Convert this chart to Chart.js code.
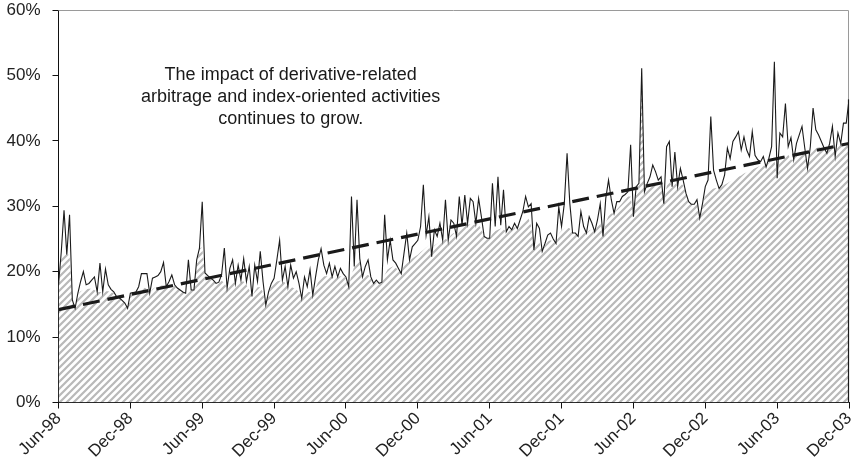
<!DOCTYPE html>
<html>
<head>
<meta charset="utf-8">
<script src="https://cdn.jsdelivr.net/npm/chart.js@4/dist/chart.umd.min.js"></script>
<style>
  html, body { margin: 0; padding: 0; background: #fff; }
  #wrap { width: 854px; height: 468px; }
</style>
</head>
<body>
<div id="wrap"><canvas id="c" width="854" height="468"></canvas></div>
<script>
// ---- data (weekly observations, Jun-98 .. Dec-03) ----
const tickLabels = ['Jun-98','Dec-98','Jun-99','Dec-99','Jun-00','Dec-00','Jun-01','Dec-01','Jun-02','Dec-02','Jun-03','Dec-03'];
const weeksPerTick = 26;

// weekly share (%), black line
const lineValues = [
  18.0,23.0,29.4,22.6,28.7,15.7,14.4,16.7,18.5,20.0,18.0,18.2,18.7,19.2,16.9,21.3,16.9,20.4,18.0,17.3,16.9,16.2,16.0,15.6,15.2,14.4,
  16.7,16.8,16.9,17.7,19.7,19.7,19.7,16.7,19.0,19.2,19.4,20.0,21.4,17.7,18.5,19.5,18.0,17.5,17.2,16.9,16.7,21.8,17.2,17.2,21.8,23.6,
  30.7,19.8,19.4,19.0,18.7,18.2,18.4,19.5,23.6,17.5,20.5,21.8,18.2,21.0,18.7,22.0,18.5,20.8,16.2,21.0,18.5,23.1,18.5,14.9,16.9,18.2,
  19.0,21.8,24.8,18.7,20.8,17.7,21.0,19.0,20.0,18.2,15.9,19.2,17.7,20.3,16.4,19.2,21.8,23.5,21.0,19.7,21.3,19.2,20.8,19.2,20.5,19.7,
  19.2,17.7,31.5,20.8,31.0,22.0,19.2,20.8,21.8,19.2,18.2,18.7,18.2,18.4,28.7,21.8,24.8,21.8,21.3,20.5,19.7,22.8,25.9,21.8,23.8,24.3,
  24.8,26.9,33.3,25.6,28.4,22.3,26.4,25.4,27.4,24.8,31.0,24.8,27.9,27.4,25.4,31.5,27.1,31.7,27.4,31.2,30.7,27.4,31.2,28.4,25.4,25.1,
  25.1,33.5,26.9,34.5,27.1,32.5,26.1,26.9,26.4,27.4,26.6,27.9,29.2,31.5,29.9,30.4,23.3,27.4,26.6,23.1,24.3,25.6,25.9,25.0,24.3,29.9,
  26.9,30.4,38.1,30.4,25.9,25.9,25.4,29.2,26.9,25.9,28.4,27.4,26.1,27.9,30.4,25.4,31.2,34.0,31.0,28.9,30.7,30.7,31.5,31.8,32.2,39.4,
  28.4,33.0,33.5,51.1,32.2,33.5,34.5,36.3,35.3,34.0,34.5,30.4,39.1,39.9,33.0,38.3,33.0,35.8,34.0,32.0,30.7,30.3,30.3,31.0,28.2,30.4,
  33.0,34.0,43.7,35.5,34.0,32.7,33.3,34.8,38.9,37.3,39.9,40.6,41.4,38.6,40.6,38.6,37.6,41.4,37.8,37.1,36.8,37.6,36.0,37.3,39.1,52.1,
  34.3,41.2,40.6,45.7,39.1,40.5,37.1,39.6,40.9,42.2,38.9,35.8,39.1,45.0,41.7,40.9,39.9,38.9,38.1,39.6,42.2,37.6,41.2,39.6,42.7,42.7,46.3
];

// weekly component (%), hatched area
const hatchValues = [
  18.0,22.0,22.6,22.6,22.6,15.7,14.4,16.5,17.0,17.2,17.3,17.4,17.4,17.2,16.9,16.9,16.9,17.0,17.0,16.9,16.7,16.2,16.0,15.6,15.2,14.4,
  16.7,16.8,16.9,17.2,17.5,17.6,17.3,16.7,17.3,17.6,17.8,17.9,17.9,17.7,17.8,17.9,17.8,17.5,17.2,16.9,16.7,17.0,17.2,17.2,21.0,23.6,
  23.7,19.8,19.0,18.8,18.6,18.2,18.4,18.6,18.3,17.5,18.2,18.6,18.2,18.4,18.5,18.5,18.0,17.2,16.2,17.0,17.6,17.6,16.8,14.9,16.5,17.8,
  18.2,18.5,18.6,18.6,18.3,17.7,17.7,17.5,17.3,16.8,15.9,16.5,16.9,16.9,16.4,17.5,18.5,19.2,19.3,19.3,19.3,19.2,19.2,19.2,19.3,19.3,
  19.0,17.7,19.5,20.8,21.5,21.5,19.2,19.5,19.5,19.2,18.2,18.4,18.2,18.4,19.5,20.3,20.6,20.8,20.6,20.2,19.7,21.0,21.3,21.6,22.0,22.3,
  22.6,23.0,23.3,23.7,24.0,22.3,24.0,24.3,24.6,24.8,25.0,24.8,25.6,25.9,25.4,26.5,26.8,27.0,27.2,27.2,27.2,27.2,27.2,26.5,25.4,25.1,
  25.1,25.8,26.2,26.4,26.6,26.5,26.1,26.4,26.4,26.8,26.6,27.2,27.7,28.0,28.2,27.0,23.3,24.5,24.5,23.1,24.0,24.6,24.8,24.6,24.3,25.8,
  26.3,26.6,26.8,26.6,25.9,25.9,25.4,25.8,26.0,25.9,26.3,26.5,26.1,26.9,27.5,25.4,27.5,28.5,28.9,28.9,29.5,30.0,30.5,31.0,31.5,31.5,
  28.4,32.0,33.5,51.1,32.2,33.0,33.2,33.4,33.5,33.6,33.6,30.4,33.0,34.0,33.0,34.0,33.0,33.5,33.2,32.0,30.7,30.3,30.3,30.5,28.2,30.0,
  32.0,32.2,32.5,32.7,32.8,32.7,33.0,33.3,33.5,33.8,34.0,34.2,34.5,34.7,35.0,35.2,35.4,35.6,35.8,36.0,36.2,36.4,36.0,36.7,36.9,37.1,
  34.3,37.3,37.5,37.7,37.9,37.1,37.1,38.0,38.2,38.3,38.5,35.8,38.6,38.8,38.9,39.0,39.1,38.9,38.1,39.2,39.3,37.6,39.4,39.5,39.5,39.6,39.6
];

// linear trend: value at first week, value at last week
const trendValues = [14.2, 39.6];

const noteLines = ['The impact of derivative-related', 'arbitrage and index-oriented activities', 'continues to grow.'];
const notePos = { week: 84, value: 50.1 };

// ---- rendering ----
const FONT = '"Liberation Sans", Arial, Helvetica, sans-serif';
const canvas = document.getElementById('c');
const ctx = canvas.getContext('2d');

function makeHatch() {
  const s = 7;
  const t = document.createElement('canvas');
  t.width = s; t.height = s;
  const g = t.getContext('2d');
  g.fillStyle = '#ffffff';
  g.fillRect(0, 0, s, s);
  g.strokeStyle = '#b9b9b9';
  g.lineWidth = 2.2;
  g.beginPath();
  g.moveTo(-2, s + 2); g.lineTo(s + 2, -2);
  g.moveTo(-2, 2); g.lineTo(2, -2);
  g.moveTo(s - 2, s + 2); g.lineTo(s + 2, s - 2);
  g.stroke();
  return ctx.createPattern(t, 'repeat');
}

const lastWeek = lineValues.length - 1;
const lineData = lineValues.map((y, i) => ({ x: i, y }));
const hatchData = hatchValues.map((y, i) => ({ x: i, y }));
const trendData = [{ x: 0, y: trendValues[0] }, { x: lastWeek, y: trendValues[1] }];

const framePlugin = {
  id: 'frame',
  beforeDatasetsDraw(chart) {
    const { ctx, chartArea: a } = chart;
    ctx.save();
    ctx.strokeStyle = '#9a9a9a';
    ctx.lineWidth = 1;
    ctx.beginPath();
    ctx.moveTo(a.left, a.top + 0.5);
    ctx.lineTo(a.right - 0.5, a.top + 0.5);
    ctx.lineTo(a.right - 0.5, a.bottom);
    ctx.stroke();
    ctx.restore();
  },
  afterDatasetsDraw(chart) {
    const { ctx, scales } = chart;
    const xs = scales.x, ys = scales.y;
    // closing edge of the area at the last observation
    const px = Math.round(xs.getPixelForValue(lastWeek)) - 0.5;
    ctx.save();
    ctx.strokeStyle = '#1a1a1a';
    ctx.lineWidth = 1.2;
    ctx.beginPath();
    ctx.moveTo(px, ys.getPixelForValue(lineValues[lastWeek]));
    ctx.lineTo(px, ys.getPixelForValue(0));
    ctx.stroke();
    // annotation text
    ctx.fillStyle = '#1a1a1a';
    ctx.font = '18px ' + FONT;
    ctx.textAlign = 'center';
    ctx.textBaseline = 'middle';
    const nx = xs.getPixelForValue(notePos.week);
    const ny = ys.getPixelForValue(notePos.value);
    noteLines.forEach((t, i) => ctx.fillText(t, nx, ny + i * 22));
    ctx.restore();
  }
};

new Chart(ctx, {
  type: 'line',
  data: {
    datasets: [
      {
        label: 'Trend',
        data: trendData,
        borderColor: '#1a1a1a',
        borderWidth: 3.2,
        borderDash: [17, 8],
        pointRadius: 0,
        fill: false,
        order: 0
      },
      {
        label: 'Total',
        data: lineData,
        borderColor: '#1a1a1a',
        borderWidth: 1.1,
        pointRadius: 0,
        tension: 0,
        fill: false,
        borderJoinStyle: 'miter',
        order: 1
      },
      {
        label: 'Component',
        data: hatchData,
        borderWidth: 0,
        borderColor: 'rgba(0,0,0,0)',
        backgroundColor: makeHatch(),
        pointRadius: 0,
        tension: 0,
        fill: 'origin',
        order: 2
      }
    ]
  },
  options: {
    responsive: false,
    animation: false,
    devicePixelRatio: 1,
    layout: { padding: { left: 0, right: 5, top: 10, bottom: 0 } },
    plugins: { legend: { display: false }, tooltip: { enabled: false } },
    scales: {
      x: {
        type: 'linear',
        min: 0,
        max: lastWeek,
        afterFit(s) { s.height = 65.5; s.paddingLeft = 0; s.paddingRight = 0; },
        border: { display: true, color: '#111', width: 1 },
        grid: { display: true, drawOnChartArea: false, drawTicks: true, tickLength: 6, color: '#111' },
        ticks: {
          stepSize: weeksPerTick,
          autoSkip: false,
          maxRotation: 45,
          minRotation: 45,
          padding: 0,
          color: '#222',
          font: { family: FONT, size: 17 },
          callback: (v) => tickLabels[Math.round(v / weeksPerTick)]
        }
      },
      y: {
        min: 0,
        max: 60,
        afterFit(s) { s.width = 58.5; s.paddingTop = 0; s.paddingBottom = 0; },
        border: { display: true, color: '#111', width: 1 },
        grid: { display: true, drawOnChartArea: false, drawTicks: true, tickLength: 6, color: '#111' },
        ticks: {
          stepSize: 10,
          padding: 12,
          color: '#222',
          font: { family: FONT, size: 17 },
          callback: (v) => v + '%'
        }
      }
    }
  },
  plugins: [framePlugin]
});
</script>
</body>
</html>
